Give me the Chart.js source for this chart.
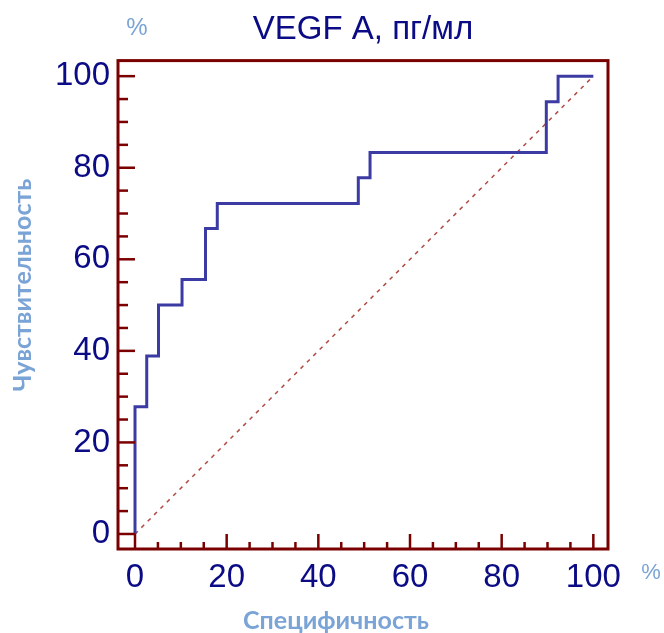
<!DOCTYPE html>
<html>
<head>
<meta charset="utf-8">
<script src="https://cdn.jsdelivr.net/npm/chart.js@4.4.1/dist/chart.umd.min.js"></script>
<style>
  html, body { margin: 0; padding: 0; background: #fff; }
  #wrap { width: 664px; height: 633px; }
</style>
</head>
<body>
<div id="wrap"><canvas id="roc"></canvas></div>
<script>
// ROC кривая, VEGF A
var oneMinusSpec = [0, 0, 2.56, 5.13, 10.26, 15.38, 17.95, 48.72, 51.28, 89.74, 92.31, 100];
var sensitivity  = [0, 27.8, 38.9, 50.0, 55.6, 66.7, 72.2, 77.8, 83.3, 94.4, 100, 100];
var diagX = [0, 100];
var diagY = [0, 100];
var tickValues = [0, 20, 40, 60, 80, 100];
var minorStep = 5;

var navy = '#0b0b85';
var frameRed = '#7a0000';
var lightBlue = '#7aa3d6';

var rocPoints = oneMinusSpec.map(function(x, i) { return {x: x, y: sensitivity[i]}; });
var diagPoints = diagX.map(function(x, i) { return {x: x, y: diagY[i]}; });

// рамка, тики внутрь, подписи осей
var frameTicks = {
  id: 'frameTicks',
  afterDraw: function(chart) {
    var ctx = chart.ctx, a = chart.chartArea;
    var xs = chart.scales.x, ys = chart.scales.y;
    ctx.save();
    ctx.strokeStyle = frameRed;
    ctx.lineWidth = 3;
    ctx.strokeRect(a.left, a.top, a.right - a.left, a.bottom - a.top);
    ctx.lineWidth = 2.5;
    for (var v = 0; v <= 100; v += minorStep) {
      var major = v % 20 == 0;
      var py = ys.getPixelForValue(v);
      ctx.beginPath();
      ctx.moveTo(a.left, py);
      ctx.lineTo(a.left + (major ? 17 : 10), py);
      ctx.stroke();
      var px = xs.getPixelForValue(v);
      ctx.beginPath();
      ctx.moveTo(px, a.bottom);
      ctx.lineTo(px, a.bottom - (major ? 15 : 7));
      ctx.stroke();
    }
    ctx.fillStyle = lightBlue;
    ctx.textAlign = 'center';
    ctx.textBaseline = 'middle';
    ctx.font = '24px "Liberation Sans"';
    ctx.fillText('%', 137, 28);
    ctx.font = '22px "Liberation Sans"';
    ctx.fillText('%', 651, 573);

    ctx.font = 'bold 25px Lato';
    ctx.fillText('Специфичность', 336, 621);
    ctx.translate(23, 285);
    ctx.rotate(-Math.PI / 2);
    ctx.fillText('Чувствительность', 0, 0);
    ctx.restore();
  }
};

new Chart(document.getElementById('roc'), {
  type: 'line',
  data: {
    datasets: [{
      data: rocPoints,
      stepped: 'before',
      borderColor: '#3b3ba3',
      borderWidth: 3,
      pointRadius: 0,
      fill: false
    }, {
      data: diagPoints,
      borderColor: '#b24a45',
      borderWidth: 1.5,
      borderDash: [4, 5],
      pointRadius: 0,
      fill: false
    }]
  },
  options: {
    responsive: true,
    maintainAspectRatio: false,
    animation: false,
    layout: { padding: { left: 0, right: 56, top: 0, bottom: 0 } },
    plugins: {
      legend: { display: false },
      tooltip: { enabled: false },
      title: {
        display: true,
        text: 'VEGF A, пг/мл',
        color: navy,
        fullSize: false,
        font: { family: '"Liberation Sans"', size: 33, weight: 'normal', lineHeight: 1.2 },
        padding: { top: 10, bottom: 11 }
      }
    },
    scales: {
      x: {
        type: 'linear',
        min: -3.71,
        max: 103.2,
        afterBuildTicks: function(s) { s.ticks = tickValues.map(function(v) { return {value: v}; }); },
        afterFit: function(s) { s.height = 84; },
        grid: { display: false, drawTicks: false },
        border: { display: false },
        ticks: { color: navy, padding: 9, maxRotation: 0, font: { family: '"Liberation Sans"', size: 33 } }
      },
      y: {
        type: 'linear',
        min: -3.28,
        max: 103.4,
        afterBuildTicks: function(s) { s.ticks = tickValues.map(function(v) { return {value: v}; }); },
        afterFit: function(s) { s.width = 118; },
        grid: { display: false, drawTicks: false },
        border: { display: false },
        ticks: { color: navy, padding: 8, font: { family: '"Liberation Sans"', size: 33 } }
      }
    }
  },
  plugins: [frameTicks]
});
</script>
</body>
</html>
